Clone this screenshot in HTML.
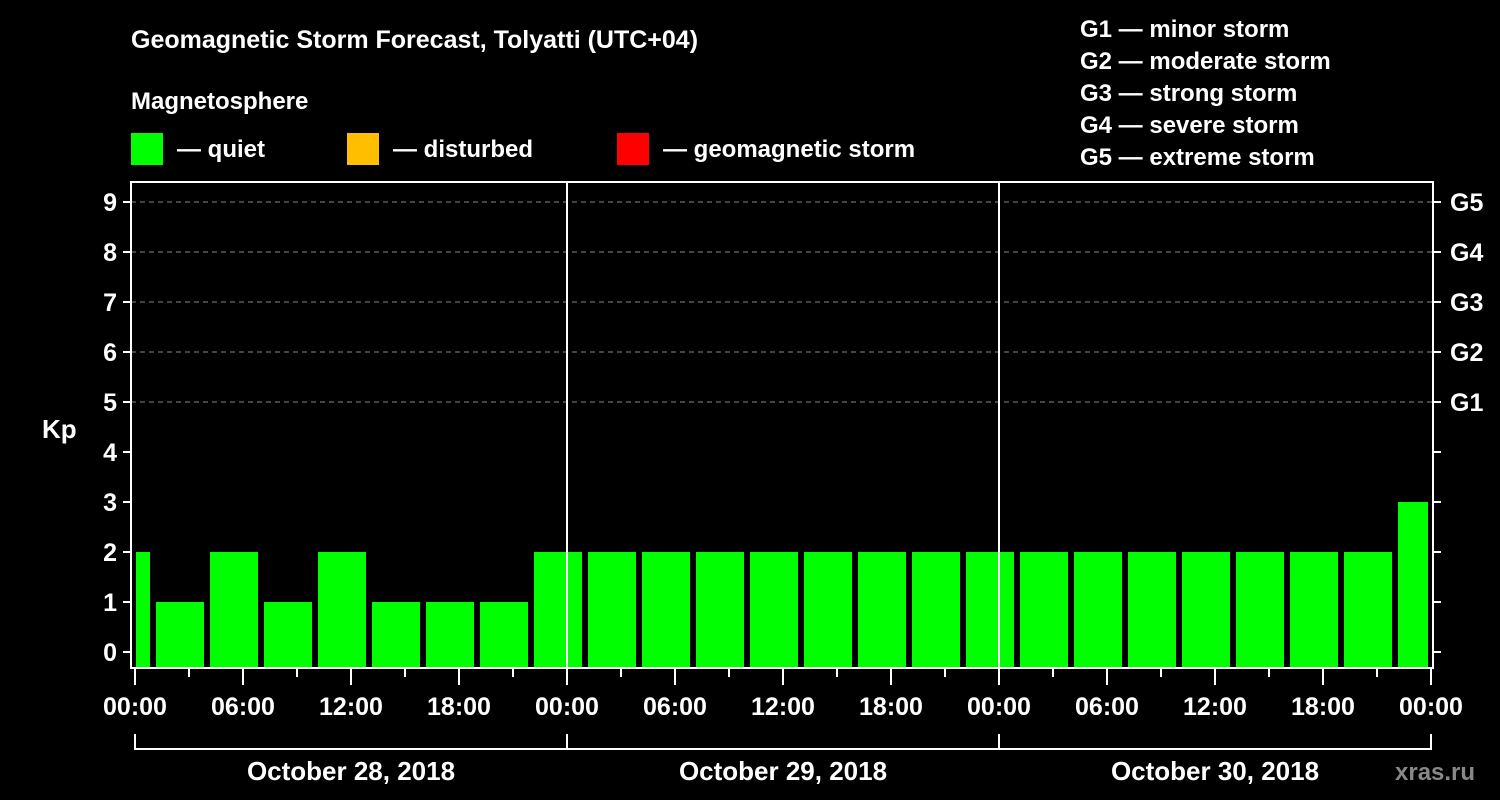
<!DOCTYPE html>
<html><head><meta charset="utf-8"><style>
body{margin:0;background:#000;width:1500px;height:800px;overflow:hidden}
svg{display:block}
text{font-family:"Liberation Sans",sans-serif;font-weight:bold;fill:#fff}
</style></head><body>
<svg id="chart" width="1500" height="800" xmlns="http://www.w3.org/2000/svg">
<text x="131" y="48" font-size="25">Geomagnetic Storm Forecast, Tolyatti (UTC+04)</text>
<text x="131" y="109" font-size="24">Magnetosphere</text>
<g><rect x="131" y="133" width="32" height="32" fill="#00ff00"/><text x="177" y="157" font-size="24">— quiet</text></g>
<g><rect x="347" y="133" width="32" height="32" fill="#ffbf00"/><text x="393" y="157" font-size="24">— disturbed</text></g>
<g><rect x="617" y="133" width="32" height="32" fill="#ff0000"/><text x="663" y="157" font-size="24">— geomagnetic storm</text></g>
<g font-size="24">
<text x="1080" y="37">G1 — minor storm</text>
<text x="1080" y="69">G2 — moderate storm</text>
<text x="1080" y="101">G3 — strong storm</text>
<text x="1080" y="133">G4 — severe storm</text>
<text x="1080" y="165">G5 — extreme storm</text>
</g>
<text x="42" y="438" font-size="26">Kp</text>
<g id="grid"></g><g id="bars"></g><g id="axes"></g>
<text x="1395" y="780" font-size="24" fill="#888" style="fill:#888">xras.ru</text>
</svg>
<script>
const kpValues=[2,1,2,1,2,1,1,1,2,2,2,2,2,2,2,2,2,2,2,2,2,2,2,2,3];
const barStartHours=[-2,1,4,7,10,13,16,19,22,25,28,31,34,37,40,43,46,49,52,55,58,61,64,67,70];
const yTicks=[0,1,2,3,4,5,6,7,8,9];
const gLabels=["G1","G2","G3","G4","G5"];
const gLevels=[5,6,7,8,9];
const timeLabels=["00:00","06:00","12:00","18:00"];
const dateLabels=["October 28, 2018","October 29, 2018","October 30, 2018"];
const NS="http://www.w3.org/2000/svg";
const X0=135,PXH=18,L=131,R=1433,T=182,B=668;
const x=h=>X0+h*PXH, y=v=>652-v*50;
function mk(p,tag,a){const e=document.createElementNS(NS,tag);for(const k in a)e.setAttribute(k,a[k]);document.getElementById(p).appendChild(e);return e;}
yTicks.forEach(v=>{if(v>=5){const g=mk('grid','line',{x1:L,x2:R,y1:y(v),y2:y(v),stroke:'#888','stroke-dasharray':'5,4','stroke-width':1});

}});
kpValues.forEach((v,i)=>{const h=barStartHours[i];let x1=x(h)+3,x2=x(h+3)-3;x1=Math.max(x1,L+5);x2=Math.min(x2,R-5);
const c=v>=5?'#ff0000':(v>=4?'#ffbf00':'#00ff00');
const r=mk('bars','rect',{x:x1,y:y(v),width:x2-x1,height:B-y(v),fill:c});

});
const ax='axes',W='#fff';
mk(ax,'rect',{x:L,y:T,width:R-L,height:B-T,fill:'none',stroke:W,'stroke-width':2});
[1,2].forEach(d=>mk(ax,'line',{x1:x(d*24),x2:x(d*24),y1:T,y2:B,stroke:W,'stroke-width':2}));
yTicks.forEach(v=>{mk(ax,'line',{x1:L-8,x2:L,y1:y(v),y2:y(v),stroke:W,'stroke-width':2});
mk(ax,'line',{x1:R,x2:R+8,y1:y(v),y2:y(v),stroke:W,'stroke-width':2});
const t=mk(ax,'text',{x:L-14,y:y(v)+9,'font-size':25,'text-anchor':'end'});t.textContent=v;

});
gLevels.forEach((v,i)=>{const t=mk(ax,'text',{x:1450,y:y(v)+9,'font-size':25});t.textContent=gLabels[i];

});
for(let h=0;h<=72;h+=3){const major=h%6===0;mk(ax,'line',{x1:x(h),x2:x(h),y1:B,y2:B+(major?17:9),stroke:W,'stroke-width':2});}
for(let h=0;h<=72;h+=6){const t=mk(ax,'text',{x:x(h),y:715,'font-size':25,'text-anchor':'middle'});t.textContent=timeLabels[(h/6)%4];

}
mk(ax,'line',{x1:x(0),x2:x(72),y1:749,y2:749,stroke:W,'stroke-width':2});
for(let d=0;d<=3;d++)mk(ax,'line',{x1:x(d*24),x2:x(d*24),y1:734,y2:750,stroke:W,'stroke-width':2});
dateLabels.forEach((s,d)=>{const t=mk(ax,'text',{x:x(d*24+12),y:780,'font-size':26,'text-anchor':'middle'});t.textContent=s;

});
</script>
</body></html>
